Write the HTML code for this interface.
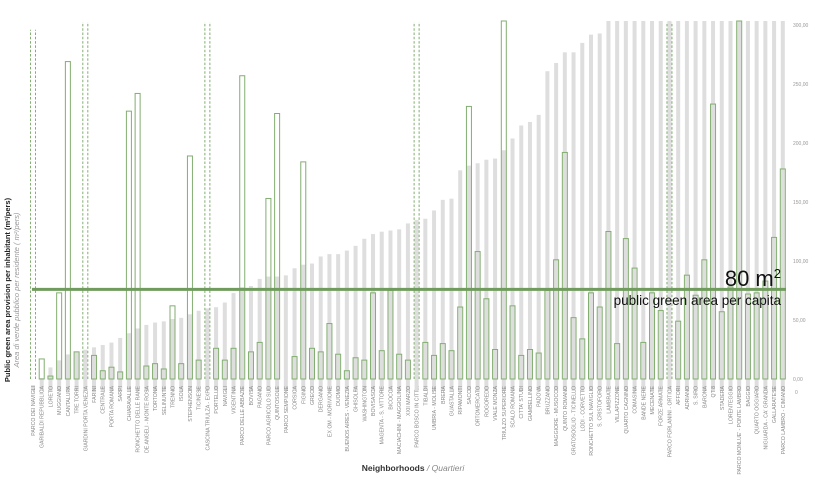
<!DOCTYPE html>
<html><head><meta charset="utf-8"><style>
html,body{margin:0;padding:0;background:#fff;}
svg{display:block;font-family:"Liberation Sans",sans-serif;}
</style></head><body>
<svg id="chart" width="818" height="499" viewBox="0 0 818 499" xmlns="http://www.w3.org/2000/svg">
<g id="gray-bars"></g>
<g id="green-bars"></g>
<g id="y-ticks"></g>
<g id="x-labels"></g>
<line id="refline" x1="32" x2="786" stroke="#6f9b5c" stroke-width="3"/>
<text x="781" y="286" text-anchor="end" font-size="22" fill="#111">80 m<tspan font-size="13" dy="-8">2</tspan></text>
<text x="781" y="305" text-anchor="end" font-size="13.5" fill="#111">public green area per capita</text>
<text transform="translate(10,290) rotate(-90)" text-anchor="middle" font-size="7.5" font-weight="bold" fill="#222">Public green area provision per inhabitant (m²/pers)</text>
<text transform="translate(19,290) rotate(-90)" text-anchor="middle" font-size="7.5" font-style="italic" fill="#999">Area di verde pubblico per residente ( m²/pers)</text>
<text x="413" y="471" text-anchor="middle" font-size="8.5" fill="#333"><tspan font-weight="bold">Neighborhoods</tspan><tspan fill="#888" font-style="italic"> / Quartieri</tspan></text>
<text x="795" y="394" font-size="5" fill="#999">0</text>
</svg>
<script>
const categories = ["PARCO DEI NAVIGLI","GARIBALDI REPUBBLICA","LORETO","MUGGIANO","CANTALUPA","TRE TORRI","GIARDINI PORTA VENEZIA","FARINI","CENTRALE","PORTA ROMANA","SARPI","CHIARAVALLE","RONCHETTO DELLE RANE","DE ANGELI - MONTE ROSA","TORTONA","SELINUNTE","TRENNO","ISOLA","STEPHENSON","TICINESE","CASCINA TRIULZA - EXPO","PORTELLO","NAVIGLI","VIGENTINA","PARCO DELLE ABBAZIE","BOVISA","PAGANO","PARCO AGRICOLO SUD","QUINTOSOLE","PARCO SEMPIONE","CORSICA","FIGINO","GRECO","DERGANO","EX OM - MORIVIONE","DUOMO","BUENOS AIRES - VENEZIA","GHISOLFA","WASHINGTON","BOVISASCA","MAGENTA - S. VITTORE","BICOCCA","MACIACHINI - MAGGIOLINA","XXII MARZO","PARCO BOSCO IN CITT...","TIBALDI","UMBRIA - MOLISE","BRERA","GUASTALLA","RIPAMONTI","SACCO","ORTOMERCATO","ROGOREDO","VIALE MONZA","TRIULZO SUPERIORE","SCALO ROMANA","CITTA' STUDI","GIAMBELLINO","PADOVA","BRUZZANO","MAGGIORE - MUSOCCO","QUINTO ROMANO","GRATOSOGLIO - TICINELLO","LODI - CORVETTO","RONCHETTO SUL NAVIGLIO","S. CRISTOFORO","LAMBRATE","VILLAPIZZONE","QUARTO CAGNINO","COMASINA","BANDE NERE","MECENATE","FORZE ARMATE","PARCO FORLANINI - ORTICA","AFFORI","ADRIANO","S. SIRO","BARONA","QT 8","STADERA","LORENTEGGIO","PARCO MONLUE' - PONTE LAMBRO","BAGGIO","QUARTO OGGIARO","NIGUARDA - CA' GRANDA","GALLARATESE","PARCO LAMBRO - CIMIANO"];
const greenValues = [296,17,2.5,73,269,23,310,20,7,10,6,227,242,11,13,8.5,62,13,189,16,310,26,16,26,257,23,31,153,225,0,19,184,26,23,47,21,7,18,16,73,24,75,21,16,310,31,20,30,24,61,231,108,68,25,310,62,20,25,22,75,101,192,52,34,73,61,125,30,119,94,31,73,58,310,49,88,71,101,233,57,78,310,72,73,83,120,178];
const offScale = [1,0,0,0,0,0,1,0,0,0,0,0,0,0,0,0,0,0,0,0,1,0,0,0,0,0,0,0,0,0,0,0,0,0,0,0,0,0,0,0,0,0,0,0,1,0,0,0,0,0,0,0,0,0,0,0,0,0,0,0,0,0,0,0,0,0,0,0,0,0,0,0,0,1,0,0,0,0,0,0,0,0,0,0,0,0,0];
const grayValues = [5,11,20,26,31,33,35,37,39,41,45,49,53,56,58,59,61,62,65,68,70,71,75,83,88,89,95,97,97,98,104,107,108,114,116,116,119,123,129,133,135,136,137,142,145,146,153,162,163,187,191,193,196,197,204,214,225,228,234,271,278,287,287,295,302,303,330,340,350,360,370,380,390,400,410,420,430,440,450,460,470,480,490,500,510,520,530];
const tickValues = [0,50,100,150,200,250,300];
const tickLabels = ["0,00","50,00","100,00","150,00","200,00","250,00","300,00"];
const refValue = 76;

const NS = "http://www.w3.org/2000/svg";
const X0 = 33, STEP = (782.8 - 33) / 86;
const Y0 = 379, GY0 = 391, K = 1.18, TOP = 21;
const xPos = i => X0 + i * STEP;
const yVal = v => Math.max(TOP, Y0 - v * K);
const yGray = v => Math.max(TOP, GY0 - v * K);
function mk(tag, attrs, parent){ const e=document.createElementNS(NS,tag); for(const k in attrs) e.setAttribute(k,attrs[k]); parent.appendChild(e); return e; }

const gGray = document.getElementById('gray-bars');
const gGreen = document.getElementById('green-bars');
const gTicks = document.getElementById('y-ticks');
const gX = document.getElementById('x-labels');

grayValues.forEach((v,i)=>{
  const y = yGray(v);
  const r = mk('rect',{x:xPos(i)-2,y:y,width:4,height:GY0-y,fill:'#dedede'},gGray);
  
  
});
greenValues.forEach((v,i)=>{
  const x = xPos(i)-2.5;
  if(offScale[i]){
    const y = Math.max(yVal(v), TOP+1);
    const g = mk('g',{stroke:'#82ae70','stroke-width':1,'stroke-dasharray':'2.5,1.8'},gGreen);
    
    
    mk('line',{x1:x,x2:x,y1:Y0,y2:y},g);
    mk('line',{x1:x+5,x2:x+5,y1:Y0,y2:y},g);
  } else if(v>0){
    const y = yVal(v);
    const r = mk('rect',{x:x,y:y,width:5,height:Y0-y,fill:'#fff','fill-opacity':0,stroke:'#82ae70','stroke-width':1},gGreen);
    
    
  }
  const t = mk('text',{transform:`translate(${xPos(i)+2},386) rotate(-90)`,'text-anchor':'end','font-size':5.2,fill:'#888'},gX);
  t.textContent = categories[i];
  
  
});
tickValues.forEach((v,i)=>{
  const t = mk('text',{x:793,y:Y0 - v*K + 2,'font-size':5,fill:'#999'},gTicks);
  t.textContent = tickLabels[i];
  
  
});
const ref = document.getElementById('refline');
ref.setAttribute('y1', Y0 - refValue*K);
ref.setAttribute('y2', Y0 - refValue*K);
</script>
</body></html>
